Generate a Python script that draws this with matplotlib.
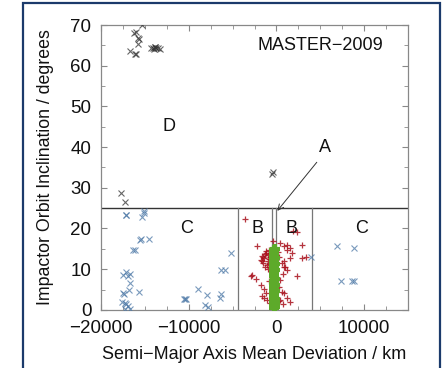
import matplotlib
matplotlib.use("Agg")
import matplotlib.pyplot as plt
from matplotlib.patches import Rectangle
from matplotlib.ticker import MultipleLocator

plt.rcParams['font.family'] = ['Liberation Sans', 'DejaVu Sans']

# Region D: high-inclination impactors (km, degrees)
d_x = [-15330, -16000, -16190, -15810, -15700, -15810, -16750, -16000, -16150,
       -14300, -14100, -13900, -13700, -13500, -13300, -14000, -13800,
       -17680, -17300, -370, -480]
d_i = [70.0, 68.4, 68.0, 66.7, 66.5, 65.4, 63.6, 62.9, 63.0,
       64.4, 64.3, 64.5, 64.3, 64.4, 64.2, 64.2, 64.5,
       28.7, 26.5, 34.0, 33.4]

# Region C: large semi-major axis deviation
c_x = [-17200, -17120, -15070, -15150, -15330, -15550, -15450, -14580, -16300, -16100,
       -5160, -17120, -17500, -16670, -16900, -16750, -15700, -16820, -17500, -17400,
       -17570, -17300, -17100, -16930, -16670, -17300,
       -8900, -7960, -10580, -10300, -10450, -8150, -7780, -6360, -5900, -6360, -6470,
       6880, 8860, 7360, 8600, 8860, 3890]
c_i = [23.2, 23.3, 24.3, 23.8, 22.8, 17.2, 17.3, 17.4, 14.7, 14.8,
       13.9, 9.4, 8.6, 8.8, 8.2, 6.7, 4.4, 4.9, 4.1, 3.8,
       2.0, 1.8, 1.5, 1.0, 0.2, 0.3,
       5.1, 3.7, 2.7, 2.7, 2.7, 1.2, 0.8, 9.7, 9.7, 3.9, 2.9,
       15.7, 15.1, 7.1, 7.1, 7.1, 12.9]

# Region B: moderate deviation
b_x = [-3590, -2170, -2840, -2950, -2360, -1790, -1600, -1400, -1200, -1000, -800,
       -1500, -1100, -900, -1300, -700, -1700, -1000, -1800, -1420, -1600, -1050, -1400,
       -600, -900, -1200, -700, -1250, -950, -1550, -800, -1150,
       450, 820, 1200, 1570, 1940, 2320, 2880, 1760, 1570, 2880, 3360, 820, 1200,
       750, 2320, 640, 820, 1200, 1570, 450, 300, 450, 1200, 300, 600, 200, 900,
       -400, 300, 700, 1000]
b_i = [22.3, 15.6, 8.6, 8.3, 7.5, 12.3, 13.2, 12.8, 14.0, 13.5, 14.8,
       11.6, 11.0, 12.4, 10.5, 13.0, 11.9, 10.0, 6.1, 5.1, 3.3, 2.5, 2.9,
       9.5, 7.0, 4.2, 1.8, 13.8, 12.0, 12.9, 11.3, 14.4,
       16.4, 15.6, 16.0, 15.2, 19.5, 19.2, 16.0, 13.9, 12.7, 12.7, 12.9, 10.6, 9.9,
       8.8, 8.2, 4.3, 4.1, 2.9, 2.0, 2.5, 2.2, 7.4, 14.8, 13.0, 11.4, 14.2, 12.0,
       17.0, 5.5, 1.5, 10.5]

# Region A: smallest deviation, dense column
a_x = [-250, -200, -300, -220, -280, -180, -260, -240, -300, -200, -230, -270,
       -210, -290, -250, -190, -260, -230, -280, -220, -250, -300, -200, -240,
       -270, -210, -250, -230, -260, -240, -220]
a_i = [0.4, 0.8, 1.2, 1.7, 2.2, 2.7, 3.2, 3.7, 4.2, 4.7, 5.2, 5.7,
       6.2, 6.7, 7.2, 7.7, 8.2, 8.7, 9.2, 9.7, 10.2, 10.7, 11.2, 11.7,
       12.2, 12.7, 13.2, 13.7, 14.2, 14.6, 15.0]

region_labels = ['D', 'C', 'B', 'B', 'C', 'A']
label_x = [-12200, -10200, -2200, 1700, 9700, 5500]
label_y = [45, 20, 20, 20, 20, 40]

fig = plt.figure(figsize=(4.43, 3.68), dpi=100)
ax = fig.add_axes([0.228, 0.158, 0.693, 0.774])

ax.plot(a_x, a_i, linestyle='none', marker='+', markersize=6.5, mew=3.0,
        color='#5DAA2A', zorder=4)
ax.plot(b_x, b_i, linestyle='none', marker='+', markersize=5, mew=0.9,
        color='#A8101C', alpha=0.85, zorder=3)
ax.plot(c_x, c_i, linestyle='none', marker='x', markersize=4.5, mew=0.8,
        color='#4E79A7', alpha=0.75, zorder=3)
ax.plot(d_x, d_i, linestyle='none', marker='x', markersize=4.5, mew=0.8,
        color='#333333', alpha=0.75, zorder=3)

# Region boundaries
ax.axhline(25, color='#333333', lw=1.0, zorder=2)
for xb in (-4400, 4000, -500, -100):
    ax.plot([xb, xb], [0, 25], color='#777777', lw=0.9, zorder=2)

for t, x, y in zip(region_labels, label_x, label_y):
    ax.text(x, y, t, ha='center', va='center', fontsize=13, color='#111111')

ax.annotate('', xy=(-100, 23.8), xytext=(4800, 36.8),
            arrowprops=dict(arrowstyle='->', lw=0.7, color='#333333'))

ax.text(5000, 65, 'MASTER\u22122009', ha='center', va='center', fontsize=13,
        color='#111111')

ax.set_xlim(-20000, 15000)
ax.set_ylim(0, 70)
ax.xaxis.set_major_locator(MultipleLocator(10000))
ax.xaxis.set_minor_locator(MultipleLocator(2500))
ax.yaxis.set_major_locator(MultipleLocator(10))
ax.yaxis.set_minor_locator(MultipleLocator(5))
ax.tick_params(which='both', direction='in', top=True, right=True,
               color='#888888', labelsize=13.5, labelcolor='#111111')
ax.tick_params(axis='x', which='major', pad=7)
ax.tick_params(axis='y', which='major', pad=7)
ax.tick_params(which='major', length=4)
ax.tick_params(which='minor', length=3)
for s in ax.spines.values():
    s.set_color('#888888')
    s.set_linewidth(0.9)

ax.set_xlabel('Semi\u2212Major Axis Mean Deviation / km', fontsize=13,
              color='#111111', labelpad=7)
ax.set_ylabel('Impactor Orbit Inclination / degrees', fontsize=12.8,
              color='#111111', labelpad=12)

# Surrounding frame
fig.patches.append(Rectangle((23 / 443, -0.05), (440 - 23) / 443, 1.05 - 3 / 368,
                             transform=fig.transFigure, fill=False,
                             edgecolor='#1B3A6B', lw=1.6, zorder=10))

fig.savefig('out.png', dpi=100)
